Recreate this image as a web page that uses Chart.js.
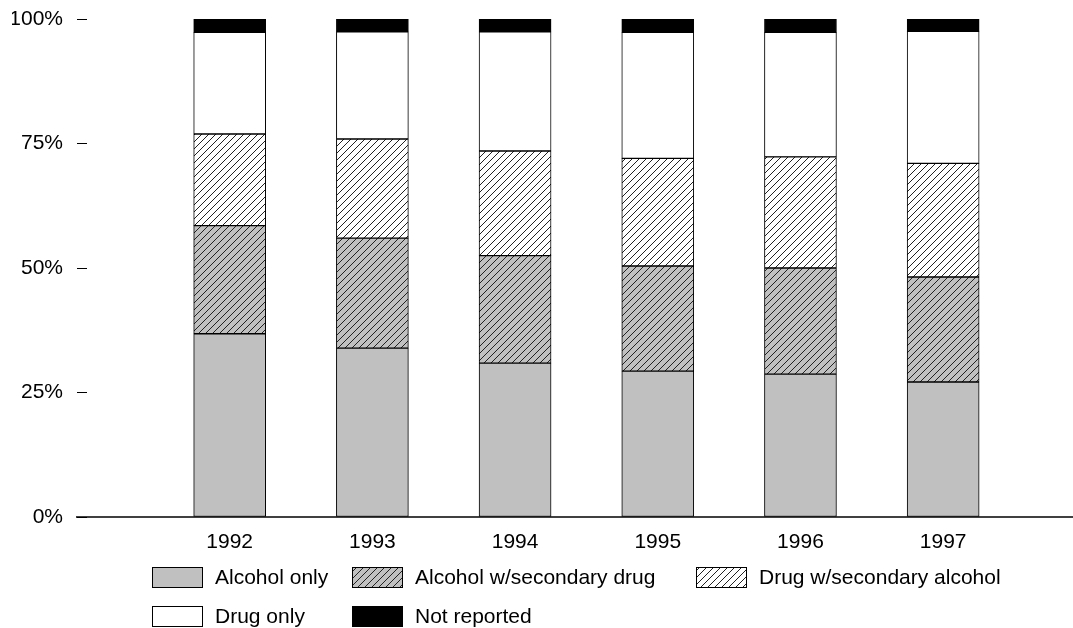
<!DOCTYPE html>
<html>
<head>
<meta charset="utf-8">
<script src="https://cdn.jsdelivr.net/npm/chart.js@4.4.1/dist/chart.umd.min.js"></script>
<style>html,body{margin:0;background:#fff}</style>
</head>
<body>
<canvas id="chart" width="1073" height="628"></canvas>
<script>
// valores (percentual de cada ano)
const years = [1992, 1993, 1994, 1995, 1996, 1997];
const alcoholOnly = [36.8, 33.9, 30.9, 29.3, 28.7, 27.1];
const alcoholSecDrug = [21.7, 22.1, 21.6, 21.1, 21.3, 21.1];
const drugSecAlcohol = [18.4, 19.9, 21.0, 21.6, 22.3, 22.8];
const drugOnly = [20.4, 21.5, 23.9, 25.3, 25.0, 26.5];
const notReported = [2.7, 2.6, 2.6, 2.7, 2.7, 2.5];
const yTicks = [0, 25, 50, 75, 100];
const seriesNames = ['Alcohol only', 'Alcohol w/secondary drug', 'Drug w/secondary alcohol', 'Drug only', 'Not reported'];

// hachura diagonal
function hatch(bg) {
  const p = 7;
  const c = document.createElement('canvas');
  c.width = p; c.height = p;
  const g = c.getContext('2d');
  g.fillStyle = bg;
  g.fillRect(0, 0, p, p);
  g.strokeStyle = '#222';
  g.lineWidth = 1;
  g.beginPath();
  g.moveTo(-1, p + 1); g.lineTo(p + 1, -1);
  g.moveTo(-1, 1); g.lineTo(1, -1);
  g.moveTo(p - 1, p + 1); g.lineTo(p + 1, p - 1);
  g.stroke();
  return g.createPattern(c, 'repeat');
}

const fills = ['#c0c0c0', hatch('#c0c0c0'), hatch('#ffffff'), '#ffffff', '#000000'];
const values = [alcoholOnly, alcoholSecDrug, drugSecAlcohol, drugOnly, notReported];

Chart.defaults.font.family = "'Liberation Sans', Arial, sans-serif";
Chart.defaults.font.size = 21;
Chart.defaults.color = '#000';

// linha do eixo x e legenda desenhadas à mão
const extras = {
  id: 'extras',
  afterDatasetsDraw(chart) {
    const ctx = chart.ctx;
    const y0 = chart.scales.y.getPixelForValue(0);
    ctx.save();
    ctx.strokeStyle = '#000';
    ctx.lineWidth = 1.5;
    ctx.beginPath();
    ctx.moveTo(76, y0);
    ctx.lineTo(chart.chartArea.right, y0);
    ctx.stroke();

    const spots = [[152, 567], [352, 567], [696, 567], [152, 606], [352, 606]];
    ctx.font = "21px 'Liberation Sans', Arial, sans-serif";
    ctx.textBaseline = 'middle';
    ctx.textAlign = 'left';
    chart.data.datasets.forEach((ds, i) => {
      const [bx, by] = spots[i];
      ctx.fillStyle = ds.backgroundColor;
      ctx.fillRect(bx, by, 50, 20);
      ctx.strokeStyle = '#000';
      ctx.lineWidth = 1;
      ctx.strokeRect(bx + 0.5, by + 0.5, 50, 20);
      ctx.fillStyle = '#000';
      ctx.fillText(ds.label, bx + 63, by + 11);
    });
    ctx.restore();
  }
};

new Chart(document.getElementById('chart'), {
  type: 'bar',
  data: {
    datasets: seriesNames.map((name, i) => ({
      label: name,
      data: years.map((yr, j) => ({ x: yr, y: values[i][j] })),
      backgroundColor: fills[i],
      borderColor: '#000',
      borderWidth: 1,
      borderSkipped: false,
      barThickness: 72
    }))
  },
  options: {
    responsive: false,
    animation: false,
    layout: { padding: { left: 12, right: 0, top: 19, bottom: 55 } },
    plugins: { legend: { display: false }, tooltip: { enabled: false } },
    scales: {
      x: {
        type: 'linear',
        stacked: true,
        offset: false,
        min: 1991,
        max: 1997.91,
        afterBuildTicks: s => { s.ticks = years.map(v => ({ value: v })); },
        afterFit: s => { s.height = 56; },
        ticks: { callback: v => String(v), padding: 5, maxRotation: 0, autoSkip: false },
        grid: { display: false },
        border: { display: false }
      },
      y: {
        stacked: true,
        min: 0,
        max: 100,
        afterBuildTicks: s => { s.ticks = yTicks.map(v => ({ value: v })); },
        afterFit: s => { s.width = 75; s.paddingTop = 0; s.paddingBottom = 0; },
        ticks: { callback: v => v + '%', padding: 14 },
        grid: { drawOnChartArea: false, color: '#000', tickLength: 10, lineWidth: 1 },
        border: { display: false }
      }
    }
  },
  plugins: [extras]
});
</script>
</body>
</html>
